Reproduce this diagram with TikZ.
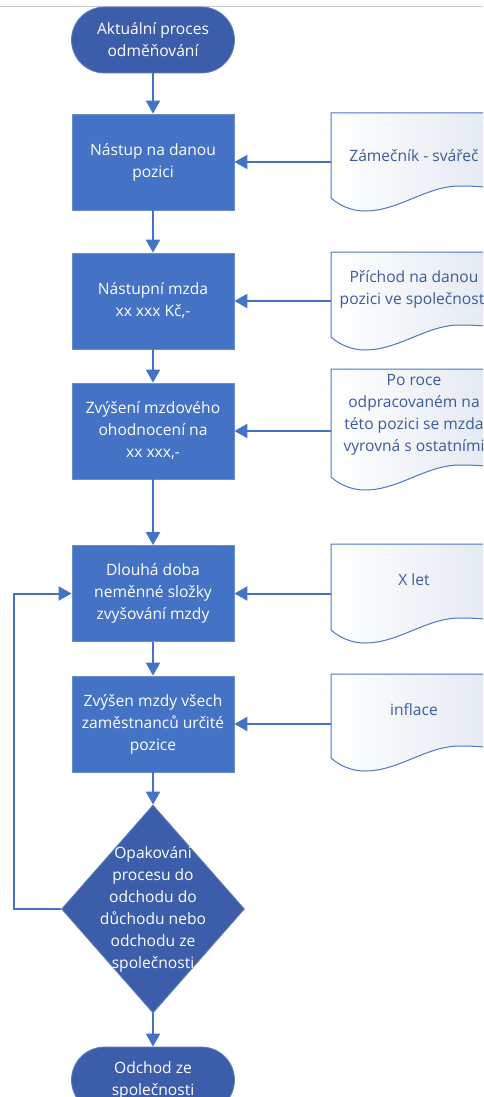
\documentclass[tikz,border=0pt]{standalone}
\usepackage{fontspec}
\setmainfont{Open Sans}
\usetikzlibrary{shapes.geometric,arrows.meta}

\definecolor{boxblue}{HTML}{4472C4}
\definecolor{termblue}{HTML}{3C5EAA}
\definecolor{docline}{HTML}{4A78C6}
\definecolor{doctext}{HTML}{3B5C9C}
\definecolor{docfill}{HTML}{E2E7F0}
\definecolor{rulegray}{HTML}{CACACA}

% document symbol: #1 = top edge, #2 = bottom of the left side
\newcommand\docpath[2]{%
  \draw[docshape] (331,#1) -- (505,#1) -- (505,#2-8)
    .. controls (490,#2-11) and (476,#2-12) .. (460,#2-12)
    .. controls (426,#2-12) and (399,#2+13) .. (365,#2+13)
    .. controls (352,#2+13) and (340,#2+8) .. (331,#2) -- cycle;}

\begin{document}
\begin{tikzpicture}[x=1pt,y=-1pt,
  font=\fontsize{15.6}{22}\selectfont,
  stepbox/.style={rectangle, fill=boxblue, draw=boxblue!80!white, line width=0.8pt,
    minimum width=162pt, minimum height=96pt, align=center, text=white, inner sep=0pt},
  terminal/.style={rectangle, rounded corners=33pt, fill=termblue, draw=termblue!80!white,
    line width=0.8pt, minimum width=163pt, minimum height=66pt, align=center,
    text=white, inner sep=0pt},
  decision/.style={diamond, fill=termblue, draw=termblue!80!white, line width=0.8pt,
    minimum width=183pt, minimum height=208pt, inner sep=0pt},
  doclabel/.style={text=doctext, align=center, inner sep=0pt},
  docshape/.style={draw=docline, line width=1pt, left color=white, right color=docfill},
  flow/.style={draw=boxblue, line width=2pt, -{Triangle[length=13pt,width=14pt]}}
]
\clip (0,0) rectangle (483,1097);
\fill[white] (0,0) rectangle (483,1097);
\draw[rulegray, line width=1pt] (0,7) -- (483,7);

% main column
\node[terminal] (start) at (153,40) {Aktuální proces\\odměňování};
\node[stepbox] (b1) at (153,162) {Nástup na danou\\pozici};
\node[stepbox] (b2) at (153,301) {Nástupní mzda\\xx xxx Kč,-};
\node[stepbox] (b3) at (153,431) {Zvýšení mzdového\\ohodnocení na\\xx xxx,-};
\node[stepbox] (b4) at (153,593.5) {Dlouhá doba\\neměnné složky\\zvyšování mzdy};
\node[stepbox] (b5) at (153,724) {Zvýšen mzdy všech\\zaměstnanců určité\\pozice};
\node[decision] (dec) at (153,909) {};
\node[align=center, text=white, inner sep=0pt] (dectext) at (153,909.5)
  {Opakováni\\procesu do\\odchodu do\\důchodu nebo\\odchodu ze\\společnosti};
\node[terminal] (end) at (153,1080) {Odchod ze\\společnosti};

% side documents
\docpath{113}{198}
\docpath{252}{337}
\docpath{369}{477}
\docpath{544}{630}
\docpath{674}{758}
\node[doclabel] (t1) at (414,155.5) {Zámečník - svářeč};
\node[doclabel] (t2) at (414,289) {Příchod na danou\\pozici ve společnosti};
\node[doclabel] (t3) at (414,414.5) {Po roce\\odpracovaném na\\této pozici se mzda\\vyrovná s ostatními};
\node[doclabel] (t4) at (414,580) {X let};
\node[doclabel] (t5) at (414,710) {inflace};
\coordinate (e1) at (331,162);
\coordinate (e2) at (331,301);
\coordinate (e3) at (331,431);
\coordinate (e4) at (331,593.5);
\coordinate (e5) at (331,724);

% connectors
\draw[flow] (start) -- (b1);
\draw[flow] (b1) -- (b2);
\draw[flow] (b2) -- (b3);
\draw[flow] (b3) -- (b4);
\draw[flow] (b4) -- (b5);
\draw[flow] (b5) -- (dec);
\draw[flow] (dec) -- (end);
\draw[flow] (e1) -- (b1);
\draw[flow] (e2) -- (b2);
\draw[flow] (e3) -- (b3);
\draw[flow] (e4) -- (b4);
\draw[flow] (e5) -- (b5);
\coordinate (loop) at (14,909);
\draw[flow] (dec.west) -- (loop) |- (b4.west);
\end{tikzpicture}
\end{document}
